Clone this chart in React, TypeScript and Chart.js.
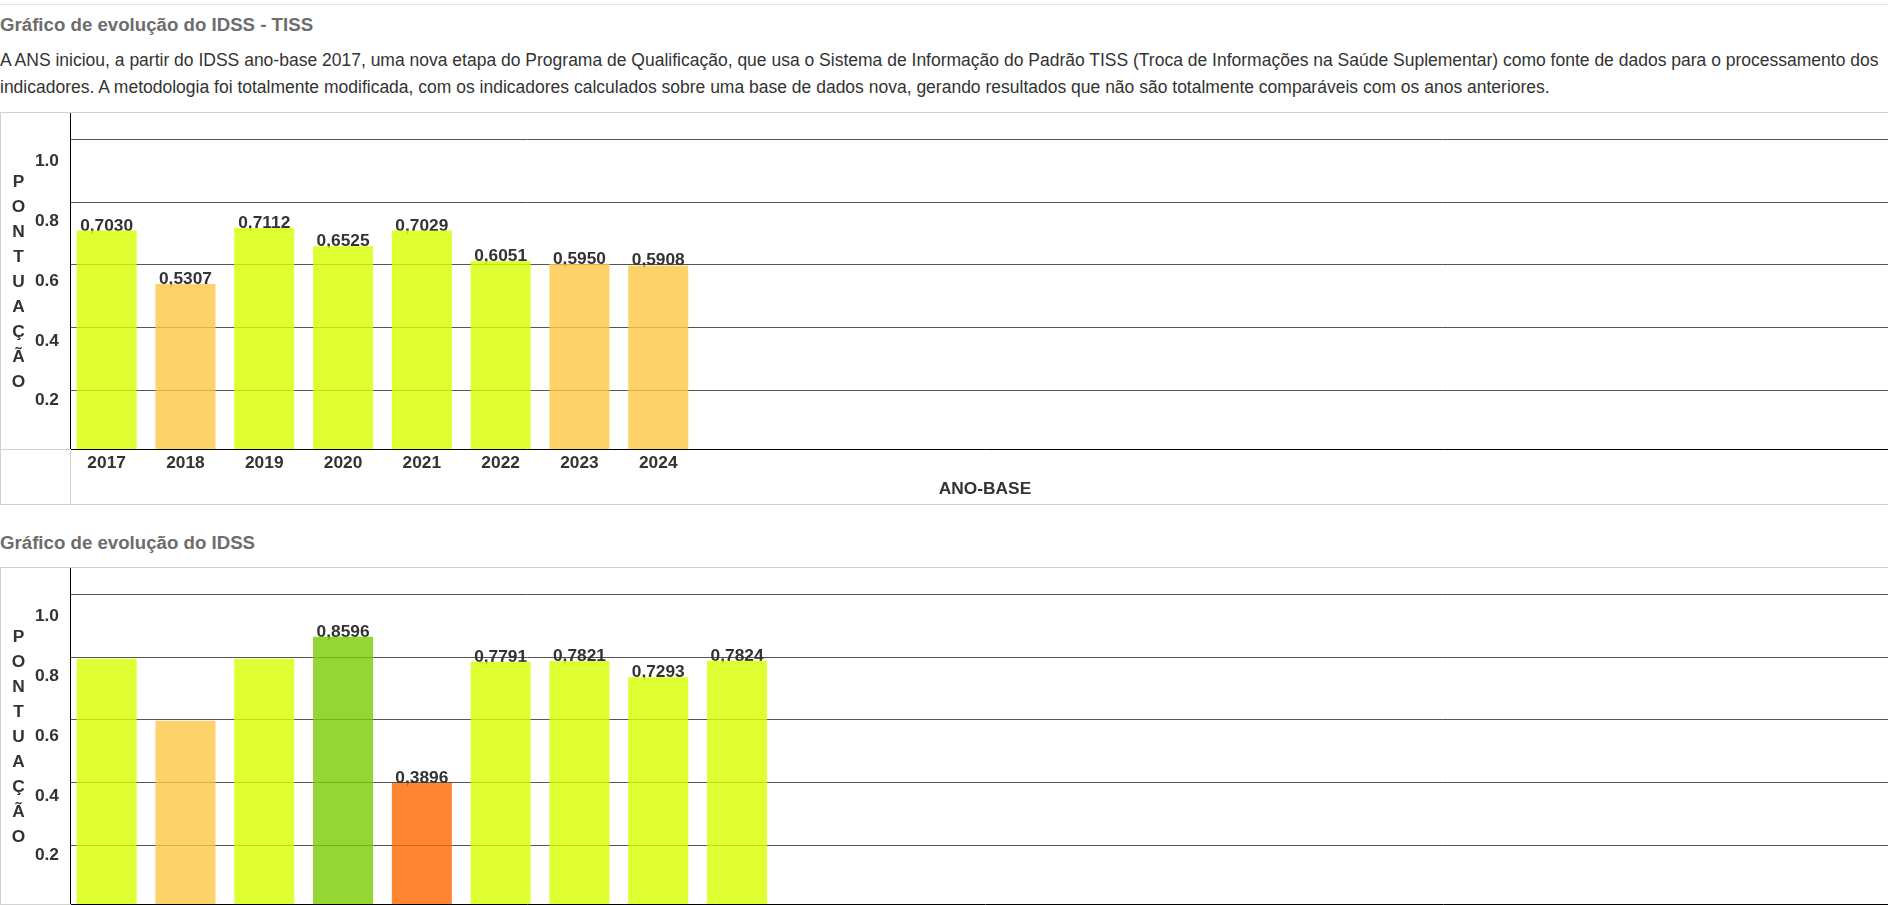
import { useEffect, useRef } from "react";
import { Chart, registerables } from "chart.js";

Chart.register(...registerables);

const FONT = "Arial, 'Liberation Sans', Helvetica, sans-serif";
const INK = "#333333";

// IDSS - TISS
const TISS_YEARS = [2017, 2018, 2019, 2020, 2021, 2022, 2023, 2024];
const TISS_SCORES = [0.703, 0.5307, 0.7112, 0.6525, 0.7029, 0.6051, 0.595, 0.5908];
const TISS_SHOW_VALUE = [true, true, true, true, true, true, true, true];

// IDSS (older series, first three values have no printed label)
const IDSS_YEARS = [2016, 2017, 2018, 2019, 2020, 2021, 2022, 2023, 2024];
const IDSS_SCORES = [0.789, 0.59, 0.789, 0.8596, 0.3896, 0.7791, 0.7821, 0.7293, 0.7824];
const IDSS_SHOW_VALUE = [false, false, false, true, true, true, true, true, true];

const Y_TICKS = [0.2, 0.4, 0.6, 0.8, 1.0];
const Y_TITLE = "PONTUAÇÃO";
const X_TITLE = "ANO-BASE";

// score bands 0.2-0.4, 0.4-0.6, 0.6-0.8, 0.8-1.0
const BAND_COLORS = [
  "rgba(255,102,0,0.8)",
  "rgba(253,199,69,0.8)",
  "rgba(215,255,0,0.8)",
  "rgba(121,204,1,0.8)",
];

const bandColor = (v: number) => BAND_COLORS[Math.max(0, Math.min(3, Math.floor(v / 0.2) - 1))];

const PLOT_LEFT = 69;
const PLOT_H = 336;
const AXIS_H = 55;
const CANVAS_W = 1899;
const CAT_PX = 78.8;

function ScoreChart({ years, scores, showValue }: { years: number[]; scores: number[]; showValue: boolean[] }) {
  const canvasRef = useRef<HTMLCanvasElement>(null);

  useEffect(() => {
    const el = canvasRef.current;
    if (!el) return;
    const font = { family: FONT, size: 17.33, weight: "bold" as const, lineHeight: 1.2 };

    const valueLabels = {
      id: "valueLabels",
      beforeDatasetsDraw(chart: any) {
        const { ctx } = chart;
        const meta = chart.getDatasetMeta(0);
        ctx.save();
        ctx.font = `bold 17.33px ${FONT}`;
        ctx.fillStyle = INK;
        ctx.textAlign = "center";
        ctx.textBaseline = "alphabetic";
        meta.data.forEach((bar: any, i: number) => {
          if (!showValue[i]) return;
          ctx.fillText(scores[i].toFixed(4).replace(".", ","), bar.x, bar.y);
        });
        ctx.restore();
      },
    };

    const xMin = years[0] - 0.465;
    const xMax = xMin + (CANVAS_W - PLOT_LEFT) / CAT_PX;
    const fixTicks = (vals: number[]) => (scale: any) => {
      scale.ticks = vals.map((value) => ({ value }));
    };

    const chart = new Chart(el, {
      type: "bar",
      data: {
        datasets: [
          {
            data: years.map((x, i) => ({ x, y: scores[i] })),
            backgroundColor: scores.map(bandColor),
            borderWidth: 0,
            barPercentage: 0.762,
            categoryPercentage: 1,
            xAxisID: "x",
            yAxisID: "y",
          },
        ],
      },
      options: {
        animation: false,
        responsive: true,
        maintainAspectRatio: false,
        layout: { padding: 0 },
        plugins: { legend: { display: false }, tooltip: { enabled: false } },
        scales: {
          x: {
            type: "linear",
            position: "bottom",
            offset: false,
            min: xMin,
            max: xMax,
            afterBuildTicks: fixTicks(years),
            afterFit: (s: any) => {
              s.height = AXIS_H;
              s.paddingLeft = 0;
              s.paddingRight = 0;
            },
            grid: { display: false, drawTicks: false, offset: false },
            border: { display: true, color: "#000", width: 1 },
            ticks: { callback: (v: any) => String(v), color: INK, font, padding: 4, autoSkip: false, maxRotation: 0 },
            title: { display: true, text: X_TITLE, color: INK, font, padding: { top: 0, bottom: 4.4 } },
          },
          y: { display: false, min: 0, max: PLOT_H / 310.8 },
          yg: {
            position: "left",
            min: 0.0112,
            max: 1.0864,
            afterBuildTicks: fixTicks(Y_TICKS),
            afterFit: (s: any) => {
              s.width = 0;
              s.paddingTop = 0;
              s.paddingBottom = 0;
            },
            ticks: { display: false },
            grid: { color: "#555555", lineWidth: 1, drawTicks: false },
            border: { display: false },
          },
          yl: {
            position: "left",
            weight: 1,
            min: 0.0387,
            max: 1.1602,
            afterBuildTicks: fixTicks(Y_TICKS),
            afterFit: (s: any) => {
              s.width = PLOT_LEFT;
              s.paddingTop = 0;
              s.paddingBottom = 0;
            },
            ticks: { callback: (v: any) => Number(v).toFixed(1), color: INK, font, padding: 11 },
            grid: { display: false, drawTicks: false },
            border: { display: true, color: "#000", width: 1 },
          },
        },
      } as any,
      plugins: [valueLabels],
    });

    return () => chart.destroy();
  }, [years, scores, showValue]);

  return (
    <div style={{ overflow: "hidden", width: "100%" }}>
      <div
        style={{
          position: "relative",
          width: 1900,
          height: PLOT_H + AXIS_H,
          borderTop: "1px solid #d2d2d2",
          borderBottom: "1px solid #d2d2d2",
          borderLeft: "1px solid #d2d2d2",
        }}
      >
        <div style={{ position: "absolute", left: 0, top: 0, width: CANVAS_W, height: PLOT_H + AXIS_H }}>
          <canvas ref={canvasRef} />
        </div>
        <div
          style={{
            position: "absolute",
            left: 0,
            top: 0,
            width: 35,
            height: PLOT_H,
            display: "flex",
            flexDirection: "column",
            justifyContent: "center",
            alignItems: "center",
            fontWeight: "bold",
            fontSize: 17.33,
            lineHeight: "25px",
            color: INK,
          }}
        >
          {Y_TITLE.split("").map((ch, i) => (
            <div key={i}>{ch}</div>
          ))}
        </div>
        <div style={{ position: "absolute", left: 0, top: PLOT_H, width: PLOT_LEFT, height: 1, background: "#d2d2d2" }} />
        <div style={{ position: "absolute", left: PLOT_LEFT, top: PLOT_H, width: 1, height: AXIS_H, background: "#d2d2d2" }} />
      </div>
    </div>
  );
}

export default function App() {
  return (
    <div style={{ fontFamily: FONT, width: "100%" }}>
      <style>{"html,body{margin:0;padding:0;overflow:hidden;background:#fff}"}</style>
      <div style={{ height: 4, borderBottom: "1px solid #e6e6e6" }} />
      <div style={{ height: 40, lineHeight: "40px", fontSize: 18.67, fontWeight: "bold", color: "#6d6d6d", whiteSpace: "nowrap" }}>
        Gráfico de evolução do IDSS - TISS
      </div>
      <div style={{ height: 67, boxSizing: "border-box", paddingTop: 2.3, fontSize: 17.5, lineHeight: "26.6px", color: INK }}>
        A ANS iniciou, a partir do IDSS ano-base 2017, uma nova etapa do Programa de Qualificação, que usa o Sistema de
        Informação do Padrão TISS (Troca de Informações na Saúde Suplementar) como fonte de dados para o processamento dos
        indicadores. A metodologia foi totalmente modificada, com os indicadores calculados sobre uma base de dados nova,
        gerando resultados que não são totalmente comparáveis com os anos anteriores.
      </div>
      <ScoreChart years={TISS_YEARS} scores={TISS_SCORES} showValue={TISS_SHOW_VALUE} />
      <div
        style={{
          height: 62,
          boxSizing: "border-box",
          paddingTop: 18.3,
          lineHeight: "40px",
          fontSize: 18.67,
          fontWeight: "bold",
          color: "#6d6d6d",
          whiteSpace: "nowrap",
        }}
      >
        Gráfico de evolução do IDSS
      </div>
      <ScoreChart years={IDSS_YEARS} scores={IDSS_SCORES} showValue={IDSS_SHOW_VALUE} />
    </div>
  );
}
